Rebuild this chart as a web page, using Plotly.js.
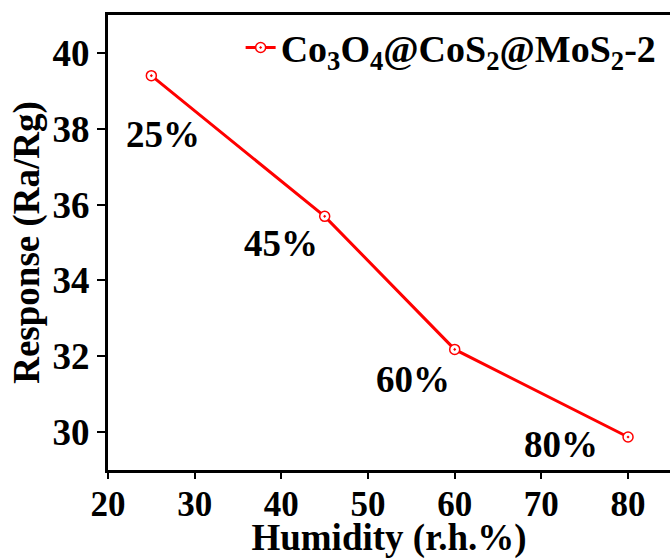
<!DOCTYPE html>
<html>
<head>
<meta charset="utf-8">
<script src="https://cdn.plot.ly/plotly-3.0.1.min.js"></script>
<style>html,body{margin:0;padding:0;background:#fff;}#chart{width:670px;height:559px;}</style>
</head>
<body>
<div id="chart"></div>
<script>
// Data
const humidity = [25, 45, 60, 80];
const response = [39.40, 35.69, 32.18, 29.87];
const pointLabels = ['25%', '45%', '60%', '80%'];
const labelX = [26.4, 40.0, 55.2, 72.3];
const labelY = [37.84, 34.98, 31.38, 29.68];
const seriesName = 'Co<sub>3</sub>O<sub>4</sub>@CoS<sub>2</sub>@MoS<sub>2</sub>-2';
const xTicks = [20, 30, 40, 50, 60, 70, 80];
const yTicks = [30, 32, 34, 36, 38, 40];

const FONT = 'Liberation Serif, Times New Roman, serif';
const RED = '#ff0000';
const X_RANGE = [20, 84.84];

const trace = {
  x: humidity,
  y: response,
  type: 'scatter',
  mode: 'lines+markers',
  name: seriesName,
  line: {color: RED, width: 3},
  marker: {symbol: 'circle-dot', size: 10, color: '#ffffff', line: {color: RED, width: 1.5}}
};

// invisible trace on overlay axis that carries the x tick marks
const tickTrace = {
  x: [X_RANGE[0]], y: [30], xaxis: 'x2', yaxis: 'y',
  type: 'scatter', mode: 'markers', marker: {opacity: 0},
  showlegend: false, hoverinfo: 'skip'
};

const annotations = pointLabels.map((t, i) => ({
  x: labelX[i], y: labelY[i], xref: 'x', yref: 'y',
  text: t, showarrow: false,
  font: {family: FONT, size: 37, color: '#000', weight: 'bold'}
}));

const layout = {
  width: 670, height: 559,
  margin: {l: 108, r: 0, t: 15, b: 89, autoexpand: false},
  paper_bgcolor: '#fff', plot_bgcolor: '#fff',
  font: {family: FONT, color: '#000', weight: 'bold'},
  showlegend: true,
  legend: {
    x: 0.236, y: 0.928, xanchor: 'left', yanchor: 'middle',
    bgcolor: 'rgba(0,0,0,0)', borderwidth: 0,
    font: {family: FONT, size: 38, color: '#000', weight: 'bold'}
  },
  xaxis: {
    range: X_RANGE,
    tickvals: xTicks, ticktext: xTicks.map(String),
    ticks: 'outside', ticklen: 1, tickwidth: 2, tickcolor: '#000',
    showline: true, linewidth: 3, linecolor: '#000', mirror: true,
    showgrid: false, zeroline: false,
    tickfont: {family: FONT, size: 35, color: '#000', weight: 'bold'},
    title: {text: 'Humidity (r.h.%)', standoff: 0, font: {family: FONT, size: 37, color: '#000', weight: 'bold'}}
  },
  xaxis2: {
    overlaying: 'x', side: 'bottom', anchor: 'y',
    range: X_RANGE,
    tickvals: xTicks, showticklabels: false,
    ticks: 'outside', ticklen: 8, tickwidth: 2, tickcolor: '#000',
    showline: false, showgrid: false, zeroline: false
  },
  yaxis: {
    range: [29.0, 41.0],
    tickvals: yTicks, ticktext: yTicks.map(String),
    ticks: 'outside', ticklen: 8, tickwidth: 2, tickcolor: '#000',
    showline: true, linewidth: 3, linecolor: '#000', mirror: false,
    showgrid: false, zeroline: false,
    tickfont: {family: FONT, size: 37, color: '#000', weight: 'bold'},
    title: {text: 'Response (Ra/Rg)', standoff: 2, font: {family: FONT, size: 37, color: '#000', weight: 'bold'}}
  },
  annotations: annotations
};

Plotly.newPlot('chart', [trace, tickTrace], layout, {displayModeBar: false, staticPlot: true});
</script>
</body>
</html>
